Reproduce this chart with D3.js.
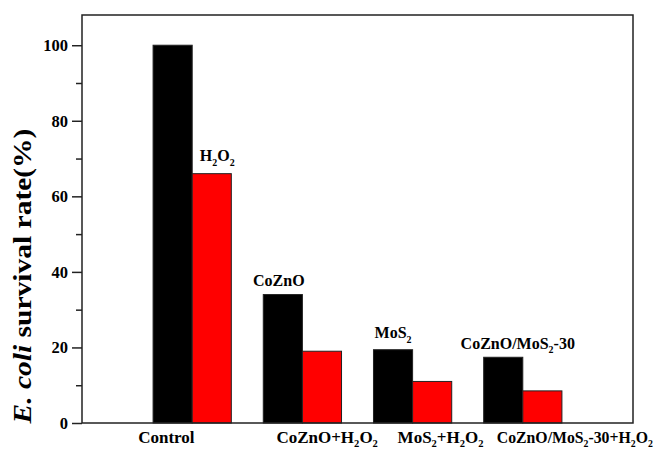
<!DOCTYPE html>
<html>
<head>
<meta charset="utf-8">
<script src="https://cdn.jsdelivr.net/npm/d3@7"></script>
<style>
  html, body { margin: 0; padding: 0; background: #fff; }
  svg { display: block; }
  text { font-family: "Times New Roman", "Liberation Serif", serif; font-weight: bold; fill: #000; }
</style>
</head>
<body>
<svg id="chart" width="656" height="451"></svg>
<script>
// Samples (groups), survival without and with H2O2
const groups = ["Control", "CoZnO", "MoS_2", "CoZnO/MoS_2-30"];
const survivalAlone = [100, 34, 19.4, 17.4];
const survivalH2O2 = [66, 19, 11, 8.5];

// Labels: above the black bars (the red Control bar carries "H2O2"), and below the axis
const topLabels = ["H_2O_2", "CoZnO", "MoS_2", "CoZnO/MoS_2-30"];
const bottomLabels = ["Control", "CoZnO+H_2O_2", "MoS_2+H_2O_2", "CoZnO/MoS_2-30+H_2O_2"];

const yTicks = [0, 20, 40, 60, 80, 100];
const yMinorTicks = [10, 30, 50, 70, 90];

// layout
const frame = { left: 82, right: 633, top: 15, bottom: 423 };
const barWidth = 0.355;                  // in x-scale units
const topLabelDx = [5.5, -4, 0, 14.5];   // px, relative to the labelled bar's centre
const topLabelGap = [12.5, 9, 11.5, 8.3];// px above the bar top
const bottomLabelDx = [-54, -26, -15, -26]; // px, left edge relative to the group centre
const bottomLabelMaxRight = 653;

const svg = d3.select("#chart");

const x = d3.scaleLinear().domain([0, 5]).range([frame.left, frame.right]);
const y = d3.scaleLinear().domain([0, 108]).range([frame.bottom, frame.top]);

// write "A_2B" style strings with subscripts as tspans
function richText(sel, str, size, drop) {
  const parts = str.split(/_(\d)/);
  parts.forEach((p, i) => {
    if (p === "") return;
    if (i % 2 === 1) {
      sel.append("tspan").attr("font-size", size * 0.62).attr("dy", drop).text(p);
    } else {
      const t = sel.append("tspan").text(p);
      if (i > 0) t.attr("dy", -drop);
    }
  });
}

const bw = x(barWidth) - x(0);

// bars: black = sample alone, red = sample + H2O2
const g = svg.append("g");
g.selectAll("rect.alone")
  .data(survivalAlone)
  .join("rect")
  .attr("class", "alone")
  .attr("x", (d, i) => x(i + 1) - bw)
  .attr("y", d => y(d))
  .attr("width", bw)
  .attr("height", d => y(0) - y(d))
  .attr("fill", "#000")
  .attr("stroke", "#222")
  .attr("stroke-width", 1);

g.selectAll("rect.h2o2")
  .data(survivalH2O2)
  .join("rect")
  .attr("class", "h2o2")
  .attr("x", (d, i) => x(i + 1))
  .attr("y", d => y(d))
  .attr("width", bw)
  .attr("height", d => y(0) - y(d))
  .attr("fill", "#ff0000")
  .attr("stroke", "#222")
  .attr("stroke-width", 1);

// frame
svg.append("rect")
  .attr("x", frame.left).attr("y", frame.top)
  .attr("width", frame.right - frame.left)
  .attr("height", frame.bottom - frame.top)
  .attr("fill", "none")
  .attr("stroke", "#222")
  .attr("stroke-width", 1.5);

// y axis
const yAxis = d3.axisLeft(y).tickValues(yTicks).tickSize(10).tickPadding(4).tickFormat(d3.format("d"));
const ya = svg.append("g").attr("transform", `translate(${frame.left},0)`).call(yAxis);
ya.attr("font-family", null).attr("font-size", null);
ya.select(".domain").remove();
ya.selectAll(".tick line").attr("stroke", "#222").attr("stroke-width", 1.5);
ya.selectAll(".tick text").attr("font-size", 16.5).attr("fill", "#000");

const yMinor = d3.axisLeft(y).tickValues(yMinorTicks).tickSize(6).tickFormat("");
const ym = svg.append("g").attr("transform", `translate(${frame.left},0)`).call(yMinor);
ym.select(".domain").remove();
ym.selectAll(".tick line").attr("stroke", "#222").attr("stroke-width", 1.5);

// y title, glyphs stretched a little along the text direction
const title = svg.append("text")
  .attr("transform", "translate(31,276) rotate(-90) scale(1.18,1)")
  .attr("text-anchor", "middle")
  .attr("font-size", 25);
title.append("tspan").attr("font-style", "italic").text("E. coli");
title.append("tspan").text(" survival rate(%)");

// labels above bars
const topValues = [survivalH2O2[0], survivalAlone[1], survivalAlone[2], survivalAlone[3]];
const topCentres = [x(1) + bw / 2, x(2) - bw / 2, x(3) - bw / 2, x(4) - bw / 2];
topLabels.forEach((lab, i) => {
  const t = svg.append("text")
    .attr("x", topCentres[i] + topLabelDx[i])
    .attr("y", y(topValues[i]) - topLabelGap[i])
    .attr("text-anchor", "middle")
    .attr("font-size", 16);
  richText(t, lab, 16, 4.5);
});

// category labels below the axis
bottomLabels.forEach((lab, i) => {
  const left = x(i + 1) + bottomLabelDx[i];
  const t = svg.append("text")
    .attr("x", left)
    .attr("y", 443)
    .attr("text-anchor", "start")
    .attr("font-size", 17);
  richText(t, lab, 17, 3.5);
  // keep the long label inside the page
  const w = t.node().getComputedTextLength();
  if (left + w > bottomLabelMaxRight) {
    t.attr("transform", `translate(${left},0) scale(${(bottomLabelMaxRight - left) / w},1) translate(${-left},0)`);
  }
});
</script>
</body>
</html>
